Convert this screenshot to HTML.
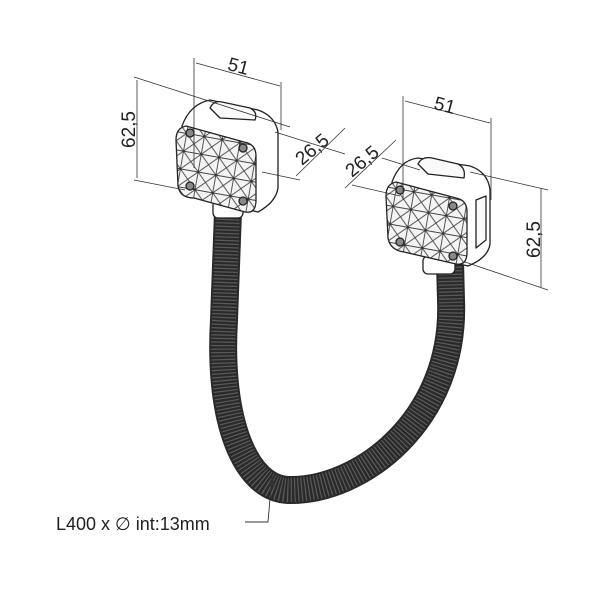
<!DOCTYPE html>
<html><head><style>html,body{margin:0;padding:0;background:#fff}svg{display:block}</style></head>
<body>
<svg width="600" height="600" viewBox="0 0 600 600" xmlns="http://www.w3.org/2000/svg" font-family="Liberation Sans, sans-serif">
<defs>
<pattern id="tri" width="18" height="18" patternUnits="userSpaceOnUse" patternTransform="rotate(10)">
<rect width="18" height="18" fill="#f4f4f4"/>
<path d="M0 0L18 18M18 0L0 18M9 0V18M0 9H18" stroke="#444" stroke-width="0.9"/>
<circle cx="9" cy="9" r="1.2" fill="#333"/>
</pattern>
</defs>
<!-- hose -->
<path d="M228 212 L224 320 C218 420 245 488 288 490 C360 492 456 420 451 300 L450 262" fill="none" stroke="#2a2a2a" stroke-width="28"/>
<path d="M228 212 L224 320 C218 420 245 488 288 490 C360 492 456 420 451 300 L450 262" fill="none" stroke="#5a5a5a" stroke-width="24" stroke-dasharray="1.2 2.3"/>
<!-- left box -->
<g stroke="#222" stroke-width="1.3" fill="#fff" stroke-linejoin="round">
<rect x="213" y="200" width="30" height="18" rx="5"/>
<path d="M182 126 Q190 104 210 100 L258 110 Q275 116 278 132 L278 188 Q276 202 258 212 L190 196 Z"/>
<path d="M210 108 Q214 100 222 102 L250 108 Q258 112 255 120 L220 118 Z" fill="#fafafa"/>
<path d="M186 126 Q176 128 176 140 L178 186 Q180 198 194 198 L245 212 Q256 214 256 200 L256 156 Q256 144 244 142 Z" fill="url(#tri)"/>
<circle cx="190" cy="133" r="4" fill="#888"/><circle cx="243" cy="148" r="4" fill="#888"/>
<circle cx="190" cy="186" r="4" fill="#888"/><circle cx="243" cy="201" r="4" fill="#888"/>
</g>
<!-- right box -->
<g stroke="#222" stroke-width="1.3" fill="#fff" stroke-linejoin="round">
<rect x="423" y="256" width="32" height="18" rx="5"/>
<path d="M392 182 Q400 160 418 158 L470 166 Q488 172 490 190 L490 244 Q488 258 468 266 L398 250 Z"/>
<path d="M418 164 Q422 156 432 158 L458 164 Q466 168 464 178 L428 174 Z" fill="#fafafa"/>
<path d="M476 200 L486 196 L486 240 L476 248 Z" fill="#fafafa"/>
<path d="M396 182 Q386 184 386 196 L388 238 Q390 250 404 252 L456 264 Q467 266 467 252 L467 212 Q467 200 456 198 Z" fill="url(#tri)"/>
<circle cx="400" cy="190" r="4" fill="#888"/><circle cx="453" cy="206" r="4" fill="#888"/>
<circle cx="400" cy="242" r="4" fill="#888"/><circle cx="453" cy="256" r="4" fill="#888"/>
</g>
<!-- dimensions -->
<g stroke="#333" stroke-width="0.8" fill="none">
<path d="M194 58V168M281 82V130M196 63L280 86"/>
<path d="M134 77L290 127M134 180L185 190M137 80V178"/>
<path d="M275 132L345 154M262 172L300 180M296 176L345 128"/>
<path d="M403 96V200M491 118V200M405 101L490 123"/>
<path d="M470 172L548 190M465 262L548 290M541 188V287"/>
<path d="M345 188L396 140M382 158L420 170M352 185L400 196"/>
</g>
<g font-size="19" fill="#222">
<text x="228" y="73" transform="rotate(15 240 66)">51</text>
<text x="434" y="112" transform="rotate(15 446 106)">51</text>
<text x="0" y="0" transform="translate(135 148) rotate(-90)">62,5</text>
<text x="0" y="0" transform="translate(540 258) rotate(-90)">62,5</text>
<text x="0" y="0" transform="translate(302 166) rotate(-40)">26,5</text>
<text x="0" y="0" transform="translate(352 178) rotate(-40)">26,5</text>
</g>
<!-- callout -->
<path d="M272 476L268 522H245" stroke="#333" stroke-width="0.9" fill="none"/>
<path d="M272 476l-4 10h7z" fill="#333"/>
<text x="56" y="530" font-size="18" fill="#222">L400 x ∅ int:13mm</text>
</svg>
</body></html>
